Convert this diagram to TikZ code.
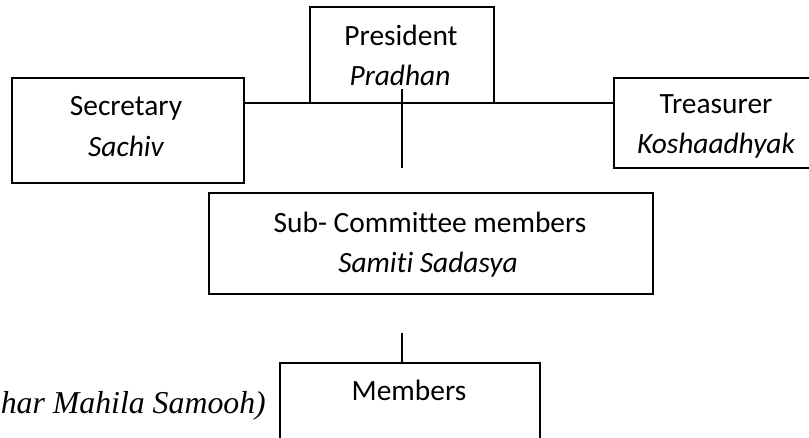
\documentclass[tikz,border=0pt]{standalone}
\usepackage{fontspec}
\setmainfont[Ligatures=NoCommon]{Carlito}
\newfontfamily\timesfont{Liberation Serif}
\begin{document}
\begin{tikzpicture}[x=1pt,y=-1pt,
  box/.style={draw, line width=1.8pt, inner sep=0pt, anchor=north west},
  lbl/.style={anchor=base, inner sep=0pt, font=\fontsize{29.4}{35}\selectfont},
  ilbl/.style={anchor=base, inner sep=0pt, font=\fontsize{29.4}{35}\selectfont\itshape},
  conn/.style={line width=1.6pt},
  vconn/.style={line width=1.1pt}]
\useasboundingbox (0,0) rectangle (809,437);
\clip (0,0) rectangle (809,437);
% boxes
\node[box, minimum width=184pt, minimum height=96pt] (pres) at (309,6) {};
\node[box, minimum width=232pt, minimum height=105pt] (sec) at (11,77) {};
\node[box, minimum width=220pt, minimum height=90pt] (tre) at (613,77) {};
\node[box, minimum width=444pt, minimum height=101pt] (sub) at (208,192) {};
\node[box, minimum width=260pt, minimum height=95pt] (mem) at (279,362) {};
% texts
\node[lbl] (presT) at (401,45) {President};
\node[ilbl] (presI) at (400,85) {Pradhan};
\node[lbl] (secT) at (126,115) {Secretary};
\node[ilbl] (secI) at (126,156) {Sachiv};
\node[lbl] (treT) at (716,113) {Treasurer};
\node[ilbl] (treI) at (716,153) {Koshaadhyak};
\node[lbl] (subT) at (430,232) {Sub- Committee members};
\node[ilbl] (subI) at (428,272) {Samiti Sadasya};
\node[lbl] (memT) at (409,400) {Members};
\node[anchor=base east, inner sep=0pt, font=\timesfont\itshape\fontsize{31.8}{38}\selectfont] (note) at (266,413) {har Mahila Samooh)};
% connectors
\coordinate (hl) at (0,103);
\draw[conn] (sec.east |- hl) -- (tre.west |- hl);
\coordinate (v1top) at (402,89);
\coordinate (v1bot) at (402,168);
\draw[vconn] (v1top) -- (v1bot);
\coordinate (v2top) at (402,333);
\draw[vconn] (v2top) -- (v2top |- mem.north);
\end{tikzpicture}
\end{document}
